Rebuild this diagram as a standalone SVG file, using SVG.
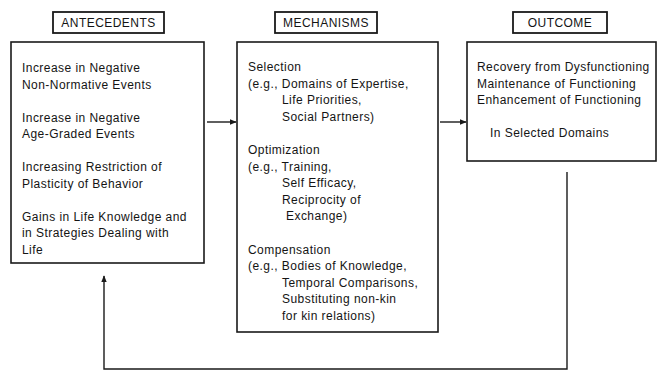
<svg xmlns="http://www.w3.org/2000/svg" width="660" height="373" viewBox="0 0 660 373">
<style>
.box{fill:#fff;stroke:#1a1a1a;stroke-width:1.6}
.lbl{fill:#fff;stroke:#1a1a1a;stroke-width:1.8}
text{font-family:"Liberation Sans",Arial,sans-serif;font-size:12px;letter-spacing:0.45px;fill:#141414}
.c{text-anchor:middle}
.conn{fill:none;stroke:#1a1a1a;stroke-width:1.4}
</style>
<defs>
<marker id="ah" viewBox="0 0 10 10" refX="9" refY="5" markerWidth="7" markerHeight="7" markerUnits="userSpaceOnUse" orient="auto">
<path d="M0,1 L10,5 L0,9 Z" fill="#1a1a1a"/>
</marker>
</defs>
<rect width="660" height="373" fill="#fff"/>
<g id="label-antecedents">
<rect class="lbl" x="53" y="12" width="111" height="21"/>
<text class="c" x="108.5" y="27">ANTECEDENTS</text>
</g>
<g id="label-mechanisms">
<rect class="lbl" x="275" y="12" width="102" height="21"/>
<text class="c" x="326" y="27">MECHANISMS</text>
</g>
<g id="label-outcome">
<rect class="lbl" x="513" y="12" width="94" height="21"/>
<text class="c" x="560" y="27">OUTCOME</text>
</g>
<g id="antecedents">
<rect class="box" x="11" y="42" width="193" height="221"/>
<text x="22" y="72">Increase in Negative</text>
<text x="22" y="88.5">Non-Normative Events</text>
<text x="22" y="121.5">Increase in Negative</text>
<text x="22" y="138">Age-Graded Events</text>
<text x="22" y="171">Increasing Restriction of</text>
<text x="22" y="187.5">Plasticity of Behavior</text>
<text x="22" y="220.5">Gains in Life Knowledge and</text>
<text x="22" y="237">in Strategies Dealing with</text>
<text x="22" y="253.5">Life</text>
</g>
<g id="mechanisms">
<rect class="box" x="237" y="42" width="201" height="290"/>
<text x="248" y="71">Selection</text>
<text x="248" y="87.6">(e.g., Domains of Expertise,</text>
<text x="282" y="104.2">Life Priorities,</text>
<text x="282" y="120.8">Social Partners)</text>
<text x="248" y="154">Optimization</text>
<text x="248" y="170.6">(e.g., Training,</text>
<text x="282" y="187.2">Self Efficacy,</text>
<text x="282" y="203.8">Reciprocity of</text>
<text x="286" y="220.4">Exchange)</text>
<text x="248" y="253.6">Compensation</text>
<text x="248" y="270.2">(e.g., Bodies of Knowledge,</text>
<text x="282" y="286.8">Temporal Comparisons,</text>
<text x="282" y="303.4">Substituting non-kin</text>
<text x="282" y="320">for kin relations)</text>
</g>
<g id="outcome">
<rect class="box" x="467" y="42" width="189" height="119"/>
<text x="477" y="71">Recovery from Dysfunctioning</text>
<text x="477" y="87.6">Maintenance of Functioning</text>
<text x="477" y="104.2">Enhancement of Functioning</text>
<text x="490" y="137">In Selected Domains</text>
</g>
<g id="connectors">
<line class="conn" x1="207" y1="122" x2="236" y2="122" marker-end="url(#ah)"/>
<line class="conn" x1="440" y1="122" x2="466" y2="122" marker-end="url(#ah)"/>
<path class="conn" d="M567,172 V369 H104 V276" marker-end="url(#ah)"/>
</g>
</svg>
